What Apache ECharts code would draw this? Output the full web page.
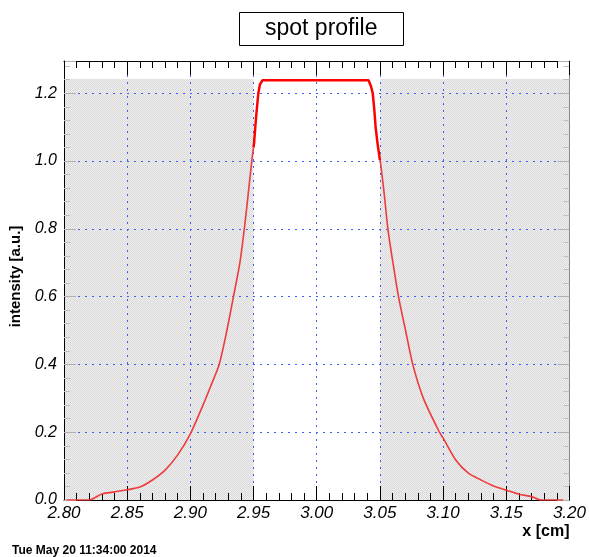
<!DOCTYPE html>
<html>
<head>
<meta charset="utf-8">
<script src="https://cdn.jsdelivr.net/npm/echarts@6/dist/echarts.min.js"></script>
<style>
  html, body { margin: 0; padding: 0; background: #fff; }
  #chart { width: 589px; height: 557px; }
</style>
</head>
<body>
<div id="chart"></div>
<script>
// Spot profile: intensity vs. x position
const leftTailX  = [2.802, 2.820, 2.830, 2.840, 2.850, 2.860, 2.870, 2.880, 2.890, 2.900, 2.910, 2.916, 2.9228, 2.9289, 2.9341, 2.9391, 2.9427, 2.9457, 2.9486, 2.950];
const leftTailY  = [0.000, 0.000, 0.018, 0.024, 0.030, 0.038, 0.059, 0.088, 0.133, 0.195, 0.280, 0.335, 0.400, 0.500, 0.600, 0.698, 0.800, 0.900, 1.000, 1.040];

const coreX      = [2.950, 2.9504, 2.9514, 2.9525, 2.9538, 2.955, 2.957, 3.041, 3.043, 3.0443, 3.0456, 3.0466, 3.0482, 3.050];
const coreY      = [1.040, 1.053, 1.101, 1.150, 1.200, 1.225, 1.238, 1.238, 1.220, 1.200, 1.150, 1.100, 1.050, 1.003];

const rightTailX = [3.050, 3.0503, 3.0535, 3.0563, 3.0603, 3.0647, 3.0703, 3.0760, 3.0845, 3.0971, 3.100, 3.110, 3.120, 3.130, 3.140, 3.150, 3.160, 3.170, 3.1775, 3.195];
const rightTailY = [1.003, 1.000, 0.900, 0.800, 0.700, 0.600, 0.500, 0.400, 0.299, 0.200, 0.183, 0.118, 0.079, 0.059, 0.041, 0.029, 0.017, 0.010, 0.000, 0.000];

// Shaded bands outside the core window
const shadeBands = [[2.80, 2.95], [3.05, 3.20]];
const shadeTop = 1.242;

const xMin = 2.80, xMax = 3.20, xStep = 0.05;
const yMin = 0, yMax = 1.295, yStep = 0.2;

const zip = (xs, ys) => xs.map((x, i) => [x, ys[i]]);

// fine checkered fill for the shaded bands
const pat = document.createElement('canvas');
pat.width = 2; pat.height = 2;
const pctx = pat.getContext('2d');
pctx.fillStyle = '#efefef'; pctx.fillRect(0, 0, 2, 2);
pctx.fillStyle = '#d9d9d9'; pctx.fillRect(0, 0, 1, 1); pctx.fillRect(1, 1, 1, 1);

const font = 'Liberation Sans';
const gridDots = { type: [2, 5], color: '#3f5ff0', width: 1 };

const chart = echarts.init(document.getElementById('chart'), null, { renderer: 'canvas' });

chart.setOption({
  animation: false,
  textStyle: { fontFamily: font },
  title: {
    text: 'spot profile',
    left: 239, top: 12,
    padding: [5, 26, 5, 26],
    borderColor: '#000', borderWidth: 1,
    backgroundColor: '#fff',
    textStyle: { fontFamily: font, fontSize: 23, fontWeight: 'normal', color: '#000', lineHeight: 24 }
  },
  grid: { left: 64, right: 17, top: 61, bottom: 57 },
  xAxis: [{
    type: 'value', position: 'bottom', min: xMin, max: xMax, interval: xStep, z: 1.5,
    axisLine: { show: true, onZero: false, lineStyle: { color: '#000', width: 1 } },
    axisTick: { show: true, inside: true, length: 14, lineStyle: { color: '#000' } },
    minorTick: { show: true, splitNumber: 5, length: 7, lineStyle: { color: '#000' } },
    axisLabel: {
      margin: 5, fontSize: 17, fontStyle: 'italic', color: '#000', fontFamily: font,
      formatter: v => v.toFixed(2)
    },
    splitLine: { show: true, lineStyle: gridDots },
    name: 'x [cm]', nameLocation: 'end', nameGap: 0,
    nameTextStyle: { fontFamily: font, fontSize: 16, fontWeight: 'bold', color: '#000',
      align: 'right', verticalAlign: 'top', padding: [24, 0, 0, 0] }
  }, {
    type: 'value', position: 'top', min: xMin, max: xMax, interval: xStep, z: 1.5,
    axisLine: { show: true, onZero: false, lineStyle: { color: '#000' } },
    axisTick: { show: true, inside: true, length: 14, lineStyle: { color: '#000' } },
    minorTick: { show: true, splitNumber: 5, length: 7, lineStyle: { color: '#000' } },
    axisLabel: { show: false }, splitLine: { show: false }
  }],
  yAxis: [{
    type: 'value', position: 'left', min: yMin, max: yMax, interval: yStep, z: 1.5,
    axisLine: { show: true, onZero: false, lineStyle: { color: '#000' } },
    axisTick: { show: true, inside: true, length: 12, lineStyle: { color: '#b0b0b0' } },
    minorTick: { show: true, splitNumber: 5, length: 6, lineStyle: { color: '#c0c0c0' } },
    axisLabel: {
      margin: 7, fontSize: 16, fontStyle: 'italic', color: '#000', fontFamily: font,
      formatter: v => (Math.abs(v / yStep - Math.round(v / yStep)) < 1e-6 ? v.toFixed(1) : '')
    },
    splitLine: { show: true, lineStyle: gridDots },
    name: 'intensity [a.u.]', nameLocation: 'middle', nameGap: 41, nameRotate: 90,
    nameTextStyle: { fontFamily: font, fontSize: 15, fontWeight: 'bold', color: '#000', padding: [0, 0, 0, 8] }
  }, {
    type: 'value', position: 'right', min: yMin, max: yMax, interval: yStep, z: 1.5,
    axisLine: { show: true, onZero: false, lineStyle: { color: '#888' } },
    axisTick: { show: true, inside: true, length: 12, lineStyle: { color: '#b0b0b0' } },
    minorTick: { show: true, splitNumber: 5, length: 6, lineStyle: { color: '#c0c0c0' } },
    axisLabel: { show: false }, splitLine: { show: false }
  }],
  graphic: [{
    type: 'text', left: 12, top: 545,
    style: { text: 'Tue May 20 11:34:00 2014', font: 'bold 12px "Liberation Sans"', fill: '#000' }
  }],
  series: [{
    name: 'shade', type: 'line', data: [], z: 1, silent: true,
    markArea: {
      silent: true,
      itemStyle: { color: { image: pat, repeat: 'repeat' } },
      data: shadeBands.map(b => [{ coord: [b[0], 0] }, { coord: [b[1], shadeTop] }])
    }
  }, {
    name: 'left tail', type: 'line', data: zip(leftTailX, leftTailY), z: 3,
    showSymbol: false, smooth: 0.25,
    lineStyle: { color: '#ee3b3b', width: 1.6 }
  }, {
    name: 'core', type: 'line', data: zip(coreX, coreY), z: 4,
    showSymbol: false,
    lineStyle: { color: '#ff0000', width: 2.5 }
  }, {
    name: 'right tail', type: 'line', data: zip(rightTailX, rightTailY), z: 3,
    showSymbol: false, smooth: 0.25,
    lineStyle: { color: '#ee3b3b', width: 1.6 }
  }]
});
</script>
</body>
</html>
